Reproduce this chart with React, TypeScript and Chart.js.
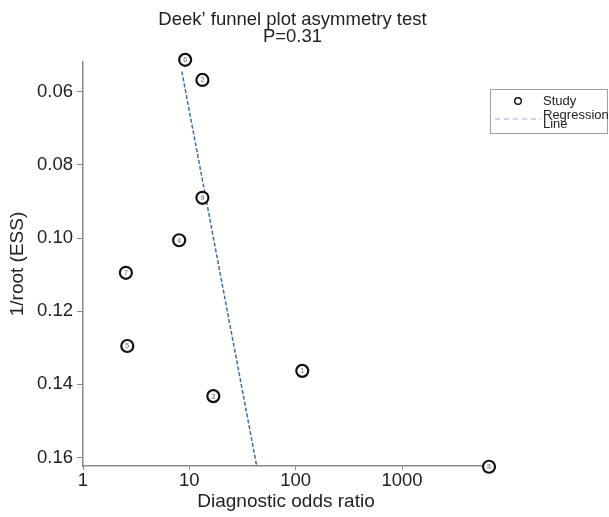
import React, { useEffect, useRef } from "react";
import { Chart, registerables } from "chart.js";

Chart.register(...registerables);

const studyIds = [1, 2, 3, 4, 5, 6, 7, 8, 9];
const studyDOR = [115.3, 13.27, 16.8, 8.02, 2.61, 9.13, 2.53, 6570, 13.27];
const studyInvRootESS = [0.1363, 0.0568, 0.1432, 0.1006, 0.1295, 0.0513, 0.1095, 0.1625, 0.089];
const regressionDOR = [8.5, 43.0];
const regressionInvRootESS = [0.0545, 0.1623];
const xTickValues = [1, 10, 100, 1000];
const yTickValues = [0.06, 0.08, 0.1, 0.12, 0.14, 0.16];
const titleLines = ["Deek\u2019 funnel plot asymmetry test", "P=0.31"];
const legendLabels = ["Study", "Regression", "Line"];

const FONT = "'Liberation Sans', Arial, Helvetica, sans-serif";

const overlayPlugin = {
  id: "overlay",
  afterDraw(chart: any) {
    const ctx = chart.ctx;
    ctx.save();
    const meta = chart.getDatasetMeta(0);
    ctx.font = `7px ${FONT}`;
    ctx.fillStyle = "#666";
    ctx.textAlign = "center";
    ctx.textBaseline = "middle";
    meta.data.forEach((pt: any, i: number) => {
      ctx.fillText(String(studyIds[i]), pt.x, pt.y + 0.5);
    });
    ctx.fillStyle = "#222";
    ctx.font = `18.5px ${FONT}`;
    ctx.fillText(titleLines[0], 284.5, 12);
    ctx.fillText(titleLines[1], 284.5, 29);
    ctx.strokeStyle = "#a0a0a0";
    ctx.lineWidth = 1;
    ctx.strokeRect(482.5, 81.5, 117, 44);
    ctx.beginPath();
    ctx.arc(510, 93, 3.3, 0, Math.PI * 2);
    ctx.strokeStyle = "#111";
    ctx.lineWidth = 1.4;
    ctx.stroke();
    ctx.beginPath();
    ctx.setLineDash([5, 4]);
    ctx.strokeStyle = "#8fb0cc";
    ctx.lineWidth = 1.2;
    ctx.moveTo(487, 111);
    ctx.lineTo(533, 111);
    ctx.stroke();
    ctx.setLineDash([]);
    ctx.fillStyle = "#222";
    ctx.textAlign = "left";
    ctx.font = `13px ${FONT}`;
    ctx.fillText(legendLabels[0], 535, 93);
    ctx.fillText(legendLabels[1], 535, 107);
    ctx.fillText(legendLabels[2], 535, 116);
    ctx.restore();
  },
};

export default function App() {
  const ref = useRef<HTMLCanvasElement | null>(null);
  useEffect(() => {
    document.documentElement.style.overflow = "hidden";
    document.body.style.margin = "8px 0 0 8px";
    const canvas = ref.current!;
    const chart = new Chart(canvas, {
      type: "scatter",
      data: {
        datasets: [
          {
            label: "Study",
            data: studyDOR.map((x, i) => ({ x, y: studyInvRootESS[i] })),
            pointStyle: "circle",
            pointRadius: 6,
            pointBorderWidth: 2.2,
            pointBorderColor: "#111",
            pointBackgroundColor: "#fff",
            clip: false as any,
          },
          {
            type: "line" as any,
            label: "Regression Line",
            data: regressionDOR.map((x, i) => ({ x, y: regressionInvRootESS[i] })),
            borderColor: "#3f6fa3",
            borderWidth: 1.5,
            borderDash: [4, 2],
            pointRadius: 0,
            fill: false,
            showLine: true,
            clip: false as any,
          },
        ],
      },
      options: {
        animation: false,
        responsive: false,
        layout: { padding: { top: 54, right: 120, left: 0, bottom: 0 } },
        plugins: {
          legend: { display: false },
          title: { display: false },
          tooltip: { enabled: false },
        },
        scales: {
          x: {
            type: "logarithmic",
            min: 1,
            max: 6570,
            afterBuildTicks: (scale: any) => {
              scale.ticks = xTickValues.map((v) => ({ value: v }));
            },
            afterFit: (scale: any) => {
              scale.height = 51;
            },
            ticks: {
              autoSkip: false,
              maxRotation: 0,
              padding: 0,
              color: "#222",
              font: { family: FONT, size: 18.5 },
              callback: (v: any) => String(v),
            },
            grid: { drawOnChartArea: false, drawTicks: true, tickLength: 4, color: "#888", lineWidth: 1 },
            border: { display: true, color: "#888", width: 1.5 },
            title: {
              display: true,
              text: "Diagnostic odds ratio",
              color: "#222",
              font: { family: FONT, size: 19 },
              padding: { top: 0, bottom: 4 },
            },
          },
          y: {
            type: "linear",
            reverse: true,
            min: 0.05189,
            max: 0.1623,
            afterBuildTicks: (scale: any) => {
              scale.ticks = yTickValues.map((v) => ({ value: v }));
            },
            afterFit: (scale: any) => {
              scale.width = 75;
            },
            ticks: {
              padding: 4,
              color: "#222",
              font: { family: FONT, size: 18.5 },
              callback: (v: any) => Number(v).toFixed(2),
            },
            grid: { drawOnChartArea: false, drawTicks: true, tickLength: 6, color: "#888", lineWidth: 1 },
            border: { display: true, color: "#888", width: 1.5 },
            title: {
              display: true,
              text: "1/root (ESS)",
              color: "#222",
              font: { family: FONT, size: 19, lineHeight: 1 },
              padding: { top: 0, bottom: 0 },
            },
          },
        },
      } as any,
      plugins: [overlayPlugin],
    });
    return () => chart.destroy();
  }, []);
  return (
    <div style={{ width: 601, height: 509 }}>
      <canvas ref={ref} width={601} height={509} style={{ display: "block", width: 601, height: 509 }} />
    </div>
  );
}
